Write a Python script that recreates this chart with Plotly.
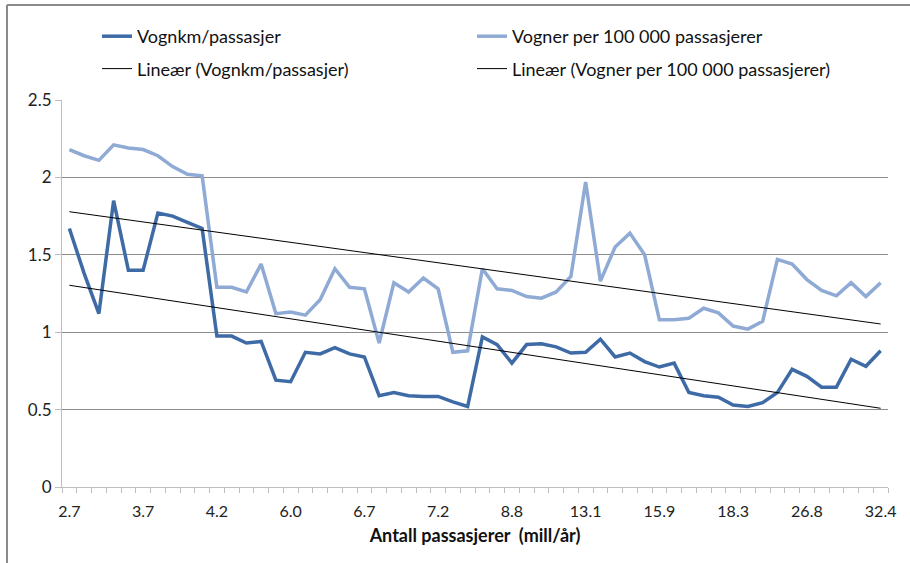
import numpy as np
import plotly.graph_objects as go

# Category tick labels (passengers, mill/year), one label every fifth category
tick_labels = ["2.7", "3.7", "4.2", "6.0", "6.7", "7.2",
               "8.8", "13.1", "15.9", "18.3", "26.8", "32.4"]

# Vehicle-km per passenger
vognkm_per_passasjer = [
    1.67, 1.38, 1.12, 1.85, 1.40, 1.40, 1.77, 1.75, 1.71, 1.67,
    0.975, 0.975, 0.93, 0.94, 0.69, 0.68, 0.87, 0.86, 0.90, 0.86,
    0.84, 0.59, 0.61, 0.59, 0.585, 0.585, 0.55, 0.52, 0.97, 0.92,
    0.80, 0.92, 0.925, 0.905, 0.865, 0.87, 0.955, 0.84, 0.865, 0.81,
    0.775, 0.80, 0.61, 0.59, 0.58, 0.53, 0.52, 0.545, 0.61, 0.76,
    0.715, 0.645, 0.645, 0.825, 0.78, 0.88,
]

# Vehicles per 100 000 passengers
vogner_per_100000 = [
    2.18, 2.14, 2.11, 2.21, 2.19, 2.18, 2.14, 2.07, 2.02, 2.01,
    1.29, 1.29, 1.26, 1.44, 1.12, 1.13, 1.11, 1.21, 1.41, 1.29,
    1.28, 0.93, 1.32, 1.26, 1.35, 1.28, 0.87, 0.88, 1.41, 1.28,
    1.27, 1.23, 1.22, 1.26, 1.36, 1.97, 1.33, 1.55, 1.64, 1.50,
    1.08, 1.08, 1.09, 1.155, 1.125, 1.04, 1.02, 1.07, 1.47, 1.44,
    1.34, 1.27, 1.235, 1.32, 1.23, 1.32,
]

n = len(vognkm_per_passasjer)
x = np.arange(n)
label_step = 5
tick_positions = list(range(0, n, label_step))


def linear_trend(values):
    slope, intercept = np.polyfit(x + 1, values, 1)
    return slope * (x + 1) + intercept


DARK = "#3E6AA6"
LIGHT = "#8FAAD4"
FONT = "Lato, Liberation Sans, sans-serif"

# plot area in pixels
W, H = 910, 563
L, R, T, B = 62, 22, 100, 76
PW, PH = W - L - R, H - T - B


def px_x(p):
    return (p - L) / PW


def px_y(p):
    return (H - B - p) / PH


fig = go.Figure()
fig.add_trace(go.Scatter(x=x, y=vognkm_per_passasjer, mode="lines",
                         name="Vognkm/passasjer", legend="legend", legendgroup="a",
                         line=dict(color=DARK, width=3.5)))
fig.add_trace(go.Scatter(x=x, y=vogner_per_100000, mode="lines",
                         name="Vogner per 100 000 passasjerer", legend="legend2",
                         legendgroup="c",
                         line=dict(color=LIGHT, width=3.5)))
fig.add_trace(go.Scatter(x=x, y=linear_trend(vognkm_per_passasjer), mode="lines",
                         name="Lineær (Vognkm/passasjer)", legend="legend",
                         legendgroup="b",
                         line=dict(color="black", width=1)))
fig.add_trace(go.Scatter(x=x, y=linear_trend(vogner_per_100000), mode="lines",
                         name="Lineær (Vogner per 100 000 passasjerer)",
                         legend="legend2", legendgroup="d",
                         line=dict(color="black", width=1)))

legend_common = dict(orientation="v", yanchor="top", xanchor="left",
                     font=dict(size=18, family=FONT, color="#111111"),
                     tracegroupgap=6, bgcolor="rgba(0,0,0,0)")

fig.update_layout(
    width=W, height=H,
    margin=dict(l=L, r=R, t=T, b=B, autoexpand=False),
    paper_bgcolor="white", plot_bgcolor="white",
    font=dict(family=FONT, size=16, color="#222222"),
    showlegend=True,
    legend=dict(x=px_x(97), y=px_y(18), **legend_common),
    legend2=dict(x=px_x(472), y=px_y(18), **legend_common),
    xaxis=dict(
        range=[-0.5, n - 0.5],
        tickmode="array", tickvals=tick_positions, ticktext=tick_labels,
        ticks="", showgrid=False, zeroline=False,
        showline=True, linecolor="#BEBEBE", linewidth=1,
        tickfont=dict(size=16, color="#222222"),
        ticklabelstandoff=10,
        minor=dict(ticks="outside", tick0=-0.5, dtick=1, ticklen=5,
                   tickcolor="#BEBEBE", showgrid=False),
        title=dict(text="<b>Antall passasjerer  (mill/år)</b>",
                   font=dict(size=18, color="#111111"), standoff=10),
    ),
    yaxis=dict(
        range=[0, 2.5], tickmode="array", tickvals=[0, 0.5, 1, 1.5, 2, 2.5],
        ticktext=["0", "0.5", "1", "1.5", "2", "2.5"],
        showgrid=True, gridcolor="#8C8C8C", gridwidth=1, zeroline=False,
        showline=True, linecolor="#BEBEBE", linewidth=1,
        ticks="outside", ticklen=6, tickcolor="#BEBEBE",
        tickfont=dict(size=17, color="#222222"),
    ),
)

# Chart frame along the left and top edges
fig.add_shape(type="line", xref="paper", yref="paper",
              x0=px_x(7), x1=px_x(7), y0=px_y(H + 5), y1=px_y(5),
              line=dict(color="#8A8A8A", width=2))
fig.add_shape(type="line", xref="paper", yref="paper",
              x0=px_x(7), x1=px_x(W + 5), y0=px_y(5), y1=px_y(5),
              line=dict(color="#8A8A8A", width=2))

fig.write_html("out.html")
